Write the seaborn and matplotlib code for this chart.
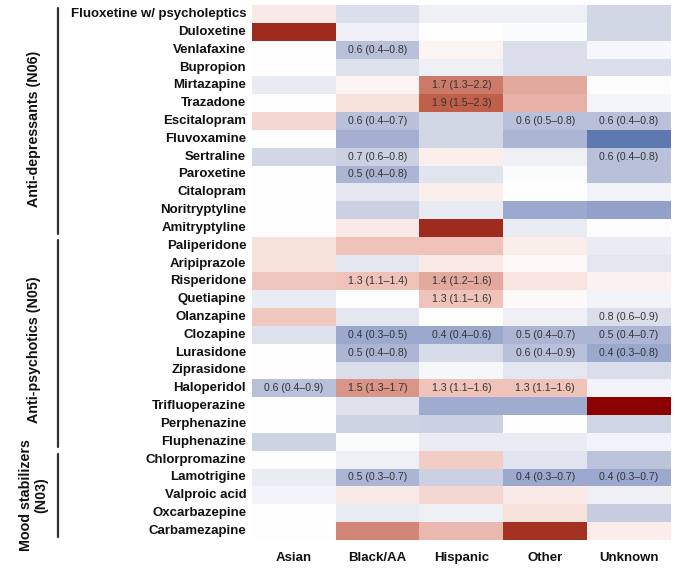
import numpy as np
import pandas as pd
import seaborn as sns
import matplotlib.pyplot as plt
from matplotlib.colors import LinearSegmentedColormap, TwoSlopeNorm
from matplotlib.transforms import blended_transform_factory

# Row / column labels
drugs = [
    "Fluoxetine w/ psycholeptics", "Duloxetine", "Venlafaxine", "Bupropion",
    "Mirtazapine", "Trazadone", "Escitalopram", "Fluvoxamine", "Sertraline",
    "Paroxetine", "Citalopram", "Noritryptyline", "Amitryptyline",
    "Paliperidone", "Aripiprazole", "Risperidone", "Quetiapine", "Olanzapine",
    "Clozapine", "Lurasidone", "Ziprasidone", "Haloperidol", "Trifluoperazine",
    "Perphenazine", "Fluphenazine",
    "Chlorpromazine", "Lamotrigine", "Valproic acid", "Oxcarbazepine",
    "Carbamezapine",
]
groups = ["Asian", "Black/AA", "Hispanic", "Other", "Unknown"]

# Odds ratios
asian    = [1.10, 3.00, 1.00, 1.00, 0.87, 1.00, 1.20, 1.00, 0.75, 1.00, 1.00, 1.00, 1.00,
            1.15, 1.15, 1.28, 0.88, 1.28, 0.82, 1.00, 1.00, 0.60, 1.00, 1.00, 0.72,
            1.00, 0.88, 0.92, 1.00, 1.00]
black    = [0.80, 0.90, 0.60, 0.82, 1.05, 1.15, 0.60, 0.45, 0.70, 0.50, 0.85, 0.70, 1.10,
            1.30, 0.85, 1.30, 1.00, 0.85, 0.40, 0.50, 0.80, 1.50, 0.82, 0.72, 0.97,
            0.90, 0.50, 1.10, 0.88, 1.60]
hispanic = [0.90, 1.00, 1.05, 0.90, 1.70, 1.90, 0.75, 0.75, 1.07, 0.83, 1.07, 0.87, 3.00,
            1.30, 1.10, 1.40, 1.30, 1.00, 0.40, 0.77, 0.95, 1.30, 0.42, 0.70, 0.88,
            1.25, 0.70, 1.20, 0.90, 1.35]
other    = [0.90, 0.97, 0.80, 0.80, 1.40, 1.38, 0.60, 0.50, 0.90, 0.97, 1.00, 0.40, 0.88,
            1.08, 1.03, 1.12, 1.03, 0.90, 0.50, 0.60, 0.85, 1.30, 0.42, 1.00, 0.88,
            0.83, 0.40, 1.10, 1.15, 2.80]
unknown  = [0.75, 0.75, 0.95, 0.80, 0.98, 0.94, 0.60, 0.25, 0.60, 0.60, 0.92, 0.37, 0.98,
            0.88, 0.85, 1.06, 0.92, 0.80, 0.50, 0.40, 0.80, 0.92, 4.00, 0.73, 0.93,
            0.62, 0.40, 0.90, 0.68, 1.08]

# Significant estimates shown in the cells: (drug, group, text)
annotations = [
    ("Venlafaxine", "Black/AA", "0.6 (0.4–0.8)"),
    ("Mirtazapine", "Hispanic", "1.7 (1.3–2.2)"),
    ("Trazadone", "Hispanic", "1.9 (1.5–2.3)"),
    ("Escitalopram", "Black/AA", "0.6 (0.4–0.7)"),
    ("Escitalopram", "Other", "0.6 (0.5–0.8)"),
    ("Escitalopram", "Unknown", "0.6 (0.4–0.8)"),
    ("Sertraline", "Black/AA", "0.7 (0.6–0.8)"),
    ("Sertraline", "Unknown", "0.6 (0.4–0.8)"),
    ("Paroxetine", "Black/AA", "0.5 (0.4–0.8)"),
    ("Risperidone", "Black/AA", "1.3 (1.1–1.4)"),
    ("Risperidone", "Hispanic", "1.4 (1.2–1.6)"),
    ("Quetiapine", "Hispanic", "1.3 (1.1–1.6)"),
    ("Olanzapine", "Unknown", "0.8 (0.6–0.9)"),
    ("Clozapine", "Black/AA", "0.4 (0.3–0.5)"),
    ("Clozapine", "Hispanic", "0.4 (0.4–0.6)"),
    ("Clozapine", "Other", "0.5 (0.4–0.7)"),
    ("Clozapine", "Unknown", "0.5 (0.4–0.7)"),
    ("Lurasidone", "Black/AA", "0.5 (0.4–0.8)"),
    ("Lurasidone", "Other", "0.6 (0.4–0.9)"),
    ("Lurasidone", "Unknown", "0.4 (0.3–0.8)"),
    ("Haloperidol", "Asian", "0.6 (0.4–0.9)"),
    ("Haloperidol", "Black/AA", "1.5 (1.3–1.7)"),
    ("Haloperidol", "Hispanic", "1.3 (1.1–1.6)"),
    ("Haloperidol", "Other", "1.3 (1.1–1.6)"),
    ("Lamotrigine", "Black/AA", "0.5 (0.3–0.7)"),
    ("Lamotrigine", "Other", "0.4 (0.3–0.7)"),
    ("Lamotrigine", "Unknown", "0.4 (0.3–0.7)"),
]

# Drug classes: (label, first drug, last drug)
classes = [
    ("Anti-depressants (N06)", "Fluoxetine w/ psycholeptics", "Amitryptyline"),
    ("Anti-psychotics (N05)", "Paliperidone", "Fluphenazine"),
    ("Mood stabilizers\n(N03)", "Chlorpromazine", "Carbamezapine"),
]
label_shift = [0.45, 0.33, 0.0]   # small vertical nudge of each class label (rows)

df = pd.DataFrame({"Asian": asian, "Black/AA": black, "Hispanic": hispanic,
                   "Other": other, "Unknown": unknown}, index=drugs)[groups]
log_or = np.log2(df)

annot = pd.DataFrame("", index=drugs, columns=groups)
for drug, grp, txt in annotations:
    annot.loc[drug, grp] = txt

# diverging palette: muted blue -> white -> dark red
nodes = [(0.0, "#4f6ca8"), (0.045, "#5f7ab0"), (0.2, "#9ca9ce"), (0.332, "#b9c1da"),
         (0.427, "#dadeea"), (0.5, "#ffffff"), (0.595, "#efc4ba"), (0.645, "#d9968a"),
         (0.7325, "#c0604a"), (0.9, "#9e2a1c"), (1.0, "#8b0000")]
cmap = LinearSegmentedColormap.from_list("or_div", nodes)
norm = TwoSlopeNorm(vmin=-2.2, vcenter=0, vmax=2.0)

sns.set_theme(style="white")
plt.rcParams["font.family"] = ["Liberation Sans", "DejaVu Sans"]

fig = plt.figure(figsize=(6.75, 5.7), dpi=100)
ax = fig.add_axes([0.373, 0.053, 0.621, 0.938])

sns.heatmap(log_or, cmap=cmap, norm=norm, annot=annot.values, fmt="",
            annot_kws={"size": 7.6, "color": "#333333"},
            cbar=False, linewidths=0, ax=ax)

ax.tick_params(axis="both", length=0)
ax.set_yticklabels(drugs, rotation=0, fontsize=9.5, fontweight="bold", color="#111111")
ax.set_xticklabels(groups, rotation=0, fontsize=9.5, fontweight="bold", color="#111111")
ax.tick_params(axis="x", pad=9)
ax.tick_params(axis="y", pad=4)
ax.set_xlabel("")
ax.set_ylabel("")

# class brackets on the left
trans = blended_transform_factory(fig.transFigure, ax.transData)
for (label, first, last), shift in zip(classes, label_shift):
    y0 = drugs.index(first) + 0.18
    y1 = drugs.index(last) + 1 - 0.18
    ax.plot([0.086, 0.086], [y0, y1], color="#333333", lw=1.6,
            transform=trans, clip_on=False)
    ax.text(0.05, (y0 + y1) / 2 + shift, label, rotation=90, ha="center", va="center",
            fontsize=10.3, fontweight="bold", color="#111111", linespacing=1.1,
            transform=trans)

fig.savefig("out.png", dpi=100)
